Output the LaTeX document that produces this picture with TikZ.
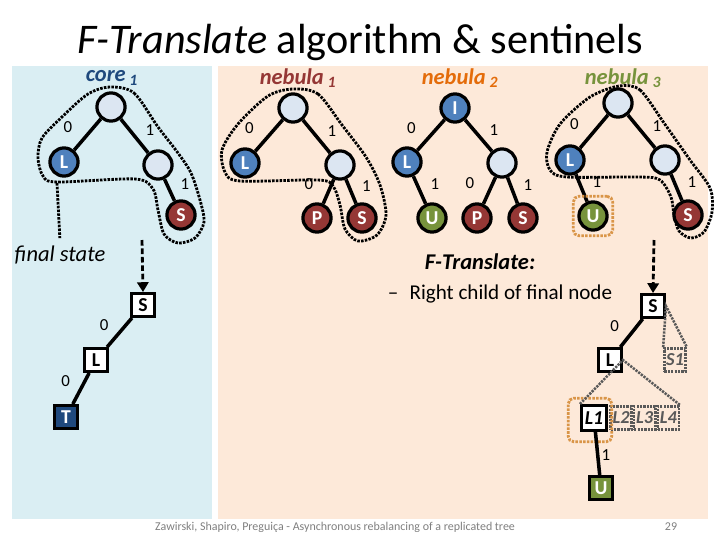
\documentclass[tikz,border=0pt]{standalone}
\usepackage{fontspec}
\setmainfont{Carlito}
\usepackage{tikz}
\usetikzlibrary{arrows.meta, positioning, calc}
\definecolor{panelblue}{HTML}{DAEEF3}
\definecolor{panelpeach}{HTML}{FDE9D9}
\definecolor{emptyfill}{HTML}{DCE6F2}
\definecolor{leafblue}{HTML}{4F81BD}
\definecolor{leafred}{HTML}{953735}
\definecolor{leafgreen}{HTML}{77933C}
\definecolor{deepblue}{HTML}{1F497D}
\definecolor{nebamber}{HTML}{E46C0A}
\definecolor{sentinelorange}{HTML}{D99548}
\definecolor{ghostgray}{HTML}{595959}
\definecolor{footgray}{HTML}{7F7F7F}

\begin{document}
\begin{tikzpicture}[x=0.025cm, y=-0.025cm,
    % Tree vertices: empty inner nodes and coloured leaves.
    vertex/.style={circle, draw=black, line width=2.3pt, fill=emptyfill,
                   minimum size=20pt, inner sep=0pt,
                   font=\fontsize{14}{14}\selectfont\bfseries, text=white},
    lnode/.style={vertex, fill=leafblue},
    snode/.style={vertex, fill=leafred},
    unode/.style={vertex, fill=leafgreen},
    % Flattened (final state) nodes: square boxes.
    flatbox/.style={rectangle, draw=black, line width=1.9pt, fill=white,
                    minimum size=16.5pt, inner sep=0pt,
                    font=\fontsize{14}{14}\selectfont\bfseries},
    tbox/.style={flatbox, fill=deepblue, text=white},
    ubox/.style={flatbox, fill=leafgreen, text=white},
    % Sub-nodes of a flattened node that are not materialised.
    ghostbox/.style={rectangle, draw=ghostgray, line width=1.8pt,
                     dash pattern=on 1.6pt off 0.8pt,
                     inner xsep=1.2pt, inner ysep=0pt,
                     minimum width=15pt, minimum height=16.5pt,
                     font=\fontsize{13}{13}\selectfont\bfseries\itshape,
                     text=ghostgray},
    branch/.style={line width=2.5pt},
    lbl/.style={font=\fontsize{12}{12}\selectfont, inner sep=0pt},
    lblL/.style={lbl, xshift=-14pt, yshift=5pt},
    lblR/.style={lbl, xshift=11pt, yshift=4pt},
    hull/.style={draw=black, line width=2pt, dash pattern=on 1.8pt off 0.9pt},
    pointer/.style={draw=black, line width=2pt, dash pattern=on 4pt off 2pt,
                    -{Triangle[length=7pt, width=8pt]}},
    sentinel/.style={rectangle, draw=sentinelorange, line width=2pt,
                     dash pattern=on 1.8pt off 0.9pt, rounded corners=4pt},
    subtree/.style={draw=ghostgray, line width=1.8pt,
                    dash pattern=on 1.6pt off 0.8pt},
    treename/.style={font=\fontsize{16}{16}\selectfont\bfseries\itshape}
]
    \useasboundingbox (0,0) rectangle (720,540);

    % === Panels ===
    \fill[panelblue]  (12,66)  rectangle (212,519);
    \fill[panelpeach] (218,66) rectangle (708,519);

    % === Title ===
    \node[font=\fontsize{30}{32}\selectfont] (title) at (360,42)
        {\textit{F-Translate} algorithm \& sentinels};

    % === Tree names ===
    \node[treename, text=deepblue]  (corename) at (112,78) {core\,\textsubscript{1}};
    \node[treename, text=leafred]   (neb1name) at (298,78) {nebula\,\textsubscript{1}};
    \node[treename, text=nebamber]  (neb2name) at (460,78) {nebula\,\textsubscript{2}};
    \node[treename, text=leafgreen] (neb3name) at (623,78) {nebula\,\textsubscript{3}};

    % === core_1 ===
    \node[vertex] (cr) at (111,107) {};
    \node[lnode]  (cl) at (64,162)  {L};
    \node[vertex] (cm) at (158,165) {};
    \node[snode]  (cs) at (181,215) {S};
    \draw[branch] (cr) -- node[lblL] {0} (cl);
    \draw[branch] (cr) -- node[lblR] {1} (cm);
    \draw[branch] (cm) -- node[lblR] {1} (cs);

    % === nebula_1 ===
    \node[vertex] (n1r) at (293,108) {};
    \node[lnode]  (n1l) at (245,163) {L};
    \node[vertex] (n1m) at (340,165) {};
    \node[snode]  (n1p) at (317,218) {P};
    \node[snode]  (n1s) at (362,218) {S};
    \draw[branch] (n1r) -- node[lblL] {0} (n1l);
    \draw[branch] (n1r) -- node[lblR] {1} (n1m);
    \draw[branch] (n1m) -- node[lblL] {0} (n1p);
    \draw[branch] (n1m) -- node[lblR] {1} (n1s);

    % === nebula_2 ===
    \node[lnode]  (n2r) at (455,108) {I};
    \node[lnode]  (n2l) at (407,162) {L};
    \node[vertex] (n2m) at (502,163) {};
    \node[unode]  (n2u) at (432,218) {U};
    \node[snode]  (n2p) at (477,218) {P};
    \node[snode]  (n2s) at (523,218) {S};
    \draw[branch] (n2r) -- node[lblL] {0} (n2l);
    \draw[branch] (n2r) -- node[lblR] {1} (n2m);
    \draw[branch] (n2l) -- node[lblR] {1} (n2u);
    \draw[branch] (n2m) -- node[lblL] {0} (n2p);
    \draw[branch] (n2m) -- node[lblR] {1} (n2s);

    % === nebula_3 ===
    \node[vertex] (n3r) at (618,103) {};
    \node[lnode]  (n3l) at (570,160) {L};
    \node[vertex] (n3m) at (665,160) {};
    \node[unode]  (n3u) at (593,216) {U};
    \node[snode]  (n3s) at (688,215) {S};
    \draw[branch] (n3r) -- node[lblL] {0} (n3l);
    \draw[branch] (n3r) -- node[lblR] {1} (n3m);
    \draw[branch] (n3l) -- node[lblR] {1} (n3u);
    \draw[branch] (n3m) -- node[lblR] {1} (n3s);
    \node[sentinel, minimum size=28pt] (n3guard) at (n3u) {};

    % === Hulls of the nodes that are flattened ===
    \draw[hull] plot[smooth cycle, tension=0.5] coordinates {
        (110,87) (134,93) (158,127) (178,153) (191,173) (200,200) (204,222)
        (195,238) (178,243) (164,234) (158,210) (153,189) (135,179) (57,182)
        (43,176) (38,158) (42,138) (63,116) (88,94)};
    \draw[hull] plot[smooth cycle, tension=0.5] coordinates {
        (293,89) (318,94) (342,125) (366,157) (380,185) (386,215) (377,235)
        (358,241) (345,229) (340,205) (333,186) (318,180) (240,181) (225,172)
        (222,150) (238,124) (268,96)};
    \draw[hull] plot[smooth cycle, tension=0.5] coordinates {
        (619,86) (640,90) (664,123) (690,160) (710,188) (712,212) (704,232)
        (691,238) (679,231) (674,215) (671,197) (660,180) (640,177) (567,177)
        (550,170) (547,152) (560,124) (590,97)};

    % === Final state (core_1) ===
    \coordinate (coreL) at (57,183);
    \coordinate (coreOut) at (142,240);
    \node[font=\fontsize{16}{16}\selectfont\itshape] (final) at (60,255) {final state};
    \draw[hull, shorten >=2pt] (coreL) -- (final.north);

    \node[flatbox] (fs) at (143,305) {S};
    \node[flatbox] (fl) at (96,360)  {L};
    \node[tbox]    (ft) at (66,417)  {T};
    \draw[pointer] (coreOut) -- (fs.north);
    \draw[branch] (fs) -- node[lblL, xshift=3pt] {0} (fl);
    \draw[branch] (fl) -- node[lblL, xshift=3pt] {0} (ft);

    % === F-Translate of nebula_3 ===
    \node[font=\fontsize{16}{16}\selectfont\bfseries\itshape] (ftitle) at (480,262) {F-Translate:};
    \node[font=\fontsize{15}{15}\selectfont] (fitem) at (500,294)
        {\textendash\hspace{8pt}Right child of final node};

    \coordinate (nebOut) at (654,240);
    \node[flatbox] (rs)  at (653,306) {S};
    \node[flatbox] (rl)  at (610,360) {L};
    \node[ghostbox] (rs1) at (675,360) {S1};
    \node[flatbox, minimum size=18pt, font=\fontsize{14}{14}\selectfont\bfseries\itshape]
        (rl1) at (594,418) {L1};
    \node[ghostbox, right=0.9pt of rl1] (rl2) {L2};
    \node[ghostbox, right=0pt of rl2]   (rl3) {L3};
    \node[ghostbox, right=0pt of rl3]   (rl4) {L4};
    \node[ubox] (ru) at (601,488) {U};
    \node[sentinel, minimum size=31pt] (rguard) at (590,420) {};

    \draw[pointer] (nebOut) -- (rs.north);
    \draw[branch] (rs) -- node[lblL, xshift=2pt] {0} (rl);
    \draw[branch] (rl1) -- node[lbl, xshift=6pt, yshift=-1pt] {1} (ru);
    \draw[subtree] (rs1.north west) -- (rs.east) -- (rs1.north east);
    \draw[subtree] (rl1.north west) -- (rl.east) -- (rl4.north east);

    % === Footer ===
    \node[font=\fontsize{8.5}{9}\selectfont, text=footgray] (foot) at (335,527)
        {Zawirski, Shapiro, Pregui\c{c}a - Asynchronous rebalancing of a replicated tree};
    \node[font=\fontsize{8.5}{9}\selectfont, text=footgray] (page) at (671,527) {29};

\end{tikzpicture}
\end{document}
